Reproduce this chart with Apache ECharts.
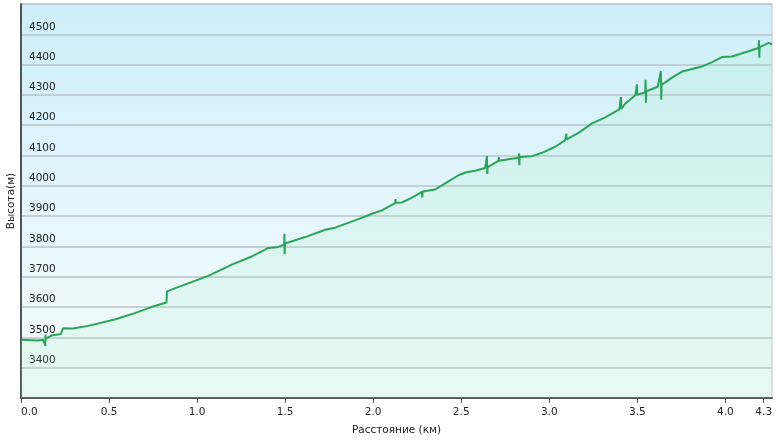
<!DOCTYPE html>
<html>
<head>
<meta charset="utf-8">
<script src="https://cdn.jsdelivr.net/npm/echarts@6/dist/echarts.min.js"></script>
<style>
  html, body { margin: 0; padding: 0; background: #ffffff; }
  #chart { width: 776px; height: 443px; }
</style>
</head>
<body>
<div id="chart"></div>
<script>
// Distance (km)
var dist = [
  0.000, 0.097, 0.125, 0.136, 0.138, 0.139, 0.141, 0.172, 0.226, 0.235, 0.238,
  0.295, 0.381, 0.532, 0.646, 0.740, 0.826, 0.829, 0.892, 1.064, 1.197, 1.311,
  1.405, 1.453, 1.494, 1.496, 1.497, 1.499, 1.614, 1.727, 1.784, 1.916, 1.993,
  2.049, 2.125, 2.127, 2.129, 2.163, 2.220, 2.277, 2.279, 2.281, 2.352, 2.409,
  2.485, 2.523, 2.580, 2.636, 2.646, 2.648, 2.650, 2.712, 2.714, 2.716, 2.769,
  2.826, 2.829, 2.830, 2.832, 2.902, 2.959, 3.034, 3.091, 3.097, 3.099, 3.166,
  3.243, 3.318, 3.375, 3.398, 3.407, 3.409, 3.432, 3.489, 3.498, 3.500, 3.502,
  3.545, 3.547, 3.549, 3.551, 3.616, 3.634, 3.636, 3.638, 3.697, 3.754, 3.868,
  3.925, 3.981, 4.038, 4.132, 4.189, 4.191, 4.193, 4.195, 4.246, 4.265
];
// Elevation (m)
var elev = [
  3492, 3490, 3492, 3492, 3472, 3509, 3496, 3506, 3511, 3512, 3530,
  3529, 3538, 3559, 3580, 3600, 3615, 3652, 3666, 3703, 3740, 3767,
  3795, 3797, 3806, 3842, 3774, 3810, 3831, 3855, 3862, 3890, 3908,
  3919, 3943, 3956, 3944, 3945, 3961, 3980, 3962, 3981, 3988, 4008,
  4035, 4044, 4050, 4059, 4098, 4039, 4062, 4082, 4095, 4083, 4088,
  4093, 4107, 4068, 4095, 4098, 4109, 4129, 4151, 4172, 4153, 4175,
  4206, 4226, 4245, 4252, 4293, 4254, 4272, 4299, 4335, 4300, 4302,
  4309, 4350, 4274, 4312, 4327, 4379, 4284, 4333, 4357, 4377, 4394,
  4408, 4425, 4427, 4444, 4455, 4480, 4423, 4458, 4472, 4467
];
// X tick positions and labels
var xTickValues = [0, 0.5, 1.0, 1.5, 2.0, 2.5, 3.0, 3.5, 4.0, 4.218];
var xTickLabels = ['0.0', '0.5', '1.0', '1.5', '2.0', '2.5', '3.0', '3.5', '4.0', '4.3'];
var yMin = 3300, yMax = 4600, yStep = 100;
var xMax = 4.265;
var xTitle = 'Расстояние (км)';
var yTitle = 'Высота(м)';

var seriesData = dist.map(function (d, i) { return [d, elev[i]]; });

var chart = echarts.init(document.getElementById('chart'), null, { renderer: 'canvas' });
var font = '"DejaVu Sans", Verdana, sans-serif';
chart.setOption({
  animation: false,
  backgroundColor: '#ffffff',
  grid: {
    left: 21, right: 4, top: 4, bottom: 45,
    outerBoundsMode: 'none',
    containLabel: false,
    show: true,
    borderColor: '#c4c4c4',
    borderWidth: 1,
    backgroundColor: new echarts.graphic.LinearGradient(0, 0, 0, 1, [
      { offset: 0, color: '#cdeefa' },
      { offset: 0.55, color: '#e6f6fc' },
      { offset: 1, color: '#f6fcfd' }
    ])
  },
  xAxis: {
    type: 'value',
    min: 0,
    max: xMax,
    name: xTitle,
    nameLocation: 'middle',
    nameGap: 27,
    nameMoveOverlap: false,
    nameTextStyle: { fontFamily: font, fontSize: 10.5, color: '#222' },
    axisLine: { show: true, onZero: false, lineStyle: { color: '#555', width: 2 } },
    axisTick: { show: true, length: 5, lineStyle: { color: '#555', width: 1 }, customValues: xTickValues },
    axisLabel: {
      customValues: xTickValues,
      fontFamily: font, fontSize: 10.5, color: '#222', margin: 9,
      alignMinLabel: 'left',
      formatter: function (v) {
        var idx = -1;
        for (var i = 0; i < xTickValues.length; i++) {
          if (Math.abs(xTickValues[i] - v) < 1e-6) { idx = i; }
        }
        return idx >= 0 ? xTickLabels[idx] : '';
      }
    },
    splitLine: { show: false }
  },
  yAxis: {
    type: 'value',
    min: yMin,
    max: yMax,
    interval: yStep,
    name: yTitle,
    nameLocation: 'middle',
    nameGap: 4,
    nameMoveOverlap: false,
    nameTextStyle: { fontFamily: font, fontSize: 10.5, color: '#222' },
    axisLine: { show: true, lineStyle: { color: '#555', width: 2 } },
    axisTick: { show: false },
    axisLabel: {
      inside: true,
      margin: 8,
      showMinLabel: false,
      showMaxLabel: false,
      fontFamily: font, fontSize: 10.5, color: '#222',
      verticalAlign: 'bottom',
      padding: [0, 0, 2, 0],
      formatter: function (v) { return String(v); }
    },
    splitLine: { show: true, lineStyle: { color: '#b9c3c8', width: 1.5 } }
  },
  series: [{
    type: 'line',
    data: seriesData,
    showSymbol: false,
    symbol: 'none',
    lineStyle: { color: '#2aa558', width: 2 },
    areaStyle: { color: 'rgba(150, 235, 180, 0.22)', origin: 'start' },
    z: 3
  }]
});
</script>
</body>
</html>
